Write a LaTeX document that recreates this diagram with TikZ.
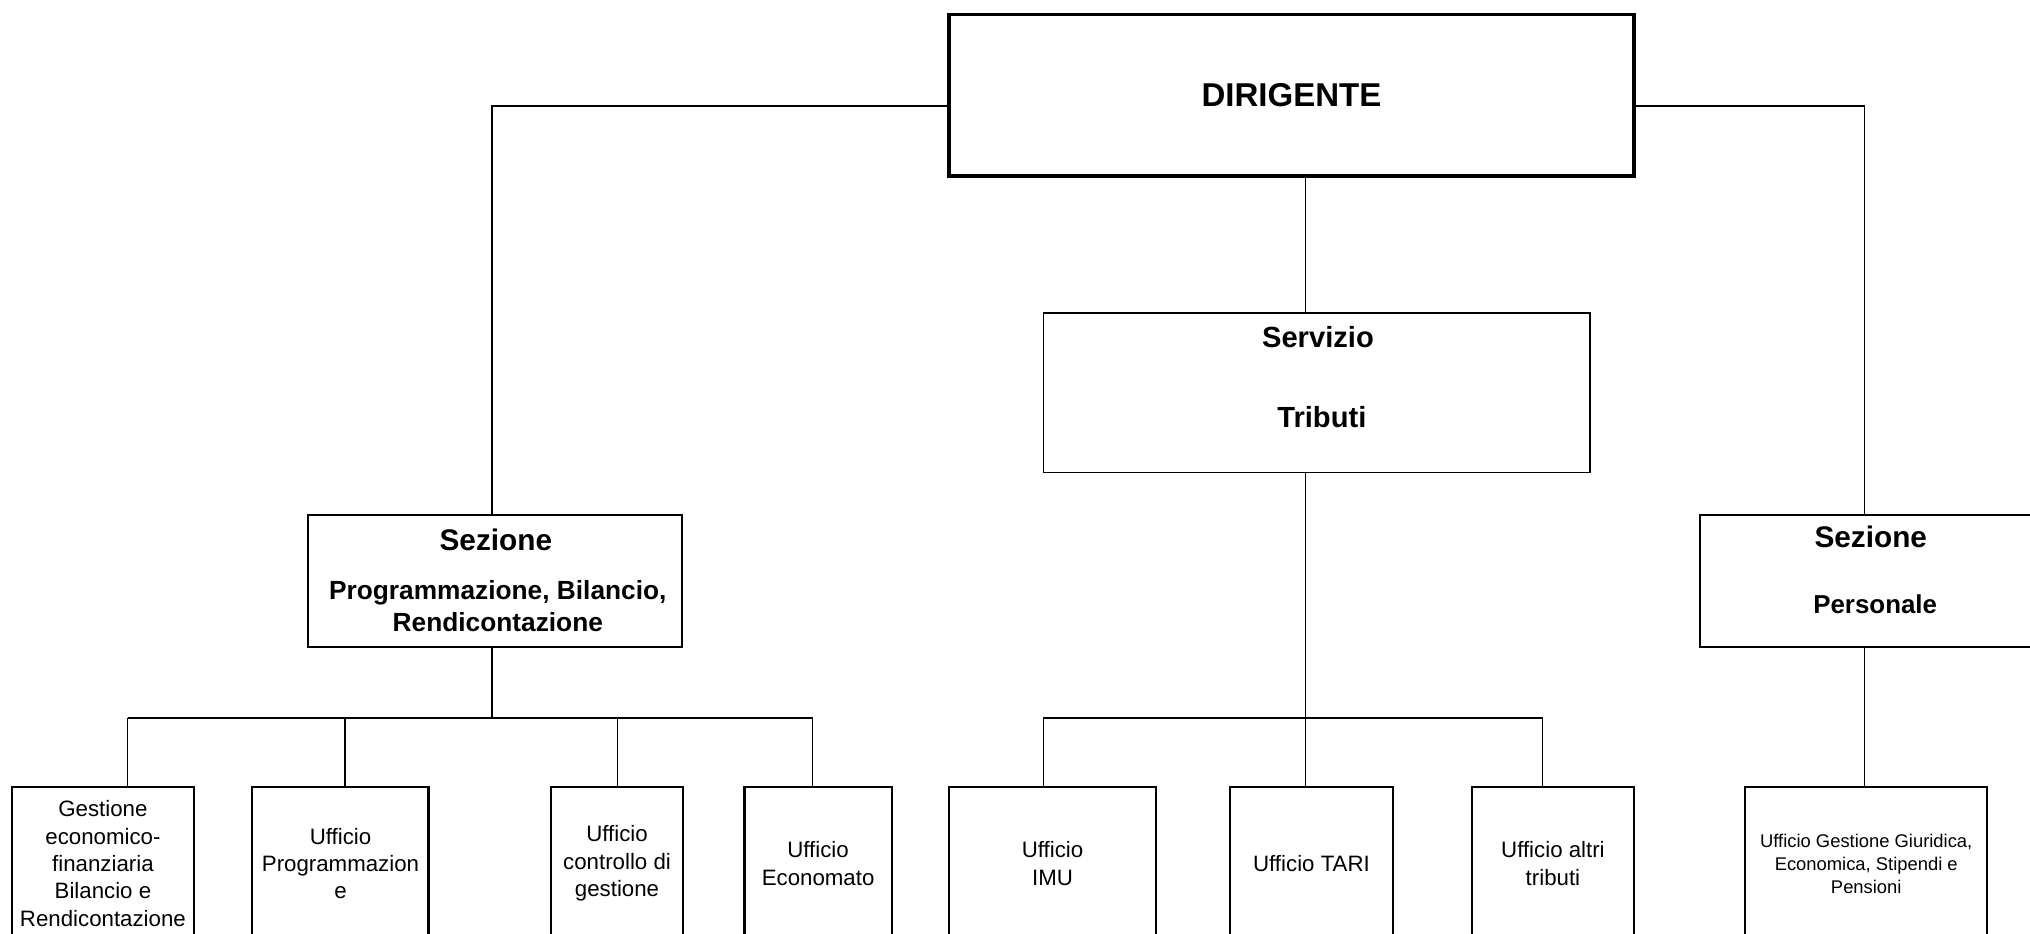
\documentclass[tikz,border=0pt]{standalone}
\usepackage{fontspec}
\setmainfont{Liberation Sans}
\begin{document}
\begin{tikzpicture}[x=1pt,y=-1pt,
  conn/.style={line width=1.2pt},
  unit/.style={draw, line width=1.6pt, inner sep=0pt, align=center, font=\fontsize{17.2}{21.2}\selectfont},
  secbox/.style={draw, line width=1.6pt, inner sep=0pt},
  servbox/.style={draw, line width=1.3pt, inner sep=0pt},
  topbox/.style={draw, line width=2.6pt, inner sep=0pt, font=\bfseries\fontsize{25.5}{30}\selectfont},
  btitle/.style={inner sep=0pt, align=center, font=\bfseries\fontsize{23}{27}\selectfont},
  bsub/.style={inner sep=0pt, align=center, font=\bfseries\fontsize{20.3}{24.5}\selectfont}
]
\useasboundingbox (0,0) rectangle (1568,721);
\fill[white] (0,0) rectangle (1568,721);
\clip (0,0) rectangle (1568,721);

% top
\node[topbox, minimum width=529pt, minimum height=125pt] (dir) at (997.5,73.5) {DIRIGENTE};

% servizio tributi
\node[servbox, minimum width=422pt, minimum height=123pt] (serv) at (1017,303.5) {};
\node[btitle, font=\bfseries\fontsize{22.5}{27}\selectfont] (servt1) at (1018,260) {Servizio};
\node[btitle, font=\bfseries\fontsize{22.5}{27}\selectfont] (servt2) at (1021,322) {Tributi};

% sezione programmazione
\node[secbox, minimum width=289pt, minimum height=102pt] (sezA) at (382.5,449) {};
\node[btitle] (sezAt1) at (383,416.6) {Sezione};
\node[bsub] (sezAt2) at (384.5,468) {Programmazione, Bilancio,\\Rendicontazione};

% sezione personale
\node[secbox, minimum width=267pt, minimum height=102pt] (sezP) at (1446.5,449) {};
\node[btitle] (sezPt1) at (1445,415) {Sezione};
\node[bsub, font=\bfseries\fontsize{20}{24}\selectfont] (sezPt2) at (1448.4,467) {Personale};

% bottom units
\node[unit, minimum width=141pt, minimum height=118pt] (b1) at (79.5,667) {Gestione\\economico-\\finanziaria\\Bilancio e\\Rendicontazione};
\node[unit, minimum width=136pt, minimum height=118pt] (b2) at (263,667) {Ufficio\\Programmazion\\e};
\node[unit, minimum width=102pt, minimum height=118pt] (b3) at (476.6,667) {Ufficio\\controllo di\\gestione};
\node[unit, minimum width=113.7pt, minimum height=118pt] (b4) at (631.9,667) {Ufficio\\Economato};
\node[unit, minimum width=160pt, minimum height=118pt] (b5) at (813,667) {Ufficio\\IMU};
\node[unit, minimum width=126pt, minimum height=118pt] (b6) at (1013,667) {Ufficio TARI};
\node[unit, minimum width=125pt, minimum height=118pt] (b7) at (1199.5,667) {Ufficio altri\\tributi};
\node[unit, minimum width=187pt, minimum height=118pt, font=\fontsize{14.2}{17.8}\selectfont] (b8) at (1441.5,667) {Ufficio Gestione Giuridica,\\Economica, Stipendi e\\Pensioni};

% bus coordinates
\coordinate (lb1) at (98.5,554.5);
\coordinate (lb2) at (266.5,554.5);
\coordinate (lb3) at (476.8,554.5);
\coordinate (lb4) at (627.6,554.5);
\coordinate (lbm) at (380,554.5);
\coordinate (t1) at (806,554.5);
\coordinate (tm) at (1008.5,554.5);
\coordinate (t3) at (1191.5,554.5);
\coordinate (pm) at (1440,554.5);

% connectors from dirigente
\draw[conn] ([yshift=-8.5pt]dir.west) -| (sezA.north -| lbm);
\draw[conn] ([yshift=-8.5pt]dir.east) -| (sezP.north -| pm);
\draw[conn] (dir.south -| tm) -- (serv.north -| tm);

% programmazione branch
\draw[conn] (sezA.south -| lbm) -- (lbm);
\draw[conn] (lb1) -- (lb4);
\draw[conn] (lb1) -- (lb1 |- b1.north);
\draw[conn] (lb2) -- (lb2 |- b2.north);
\draw[conn] (lb3) -- (lb3 |- b3.north);
\draw[conn] (lb4) -- (lb4 |- b4.north);

% tributi branch
\draw[conn] (serv.south -| tm) -- (b6.north -| tm);
\draw[conn] (t1) -- (t3);
\draw[conn] (t1) -- (t1 |- b5.north);
\draw[conn] (t3) -- (t3 |- b7.north);

% personale branch
\draw[conn] (sezP.south -| pm) -- (b8.north -| pm);
\end{tikzpicture}
\end{document}
